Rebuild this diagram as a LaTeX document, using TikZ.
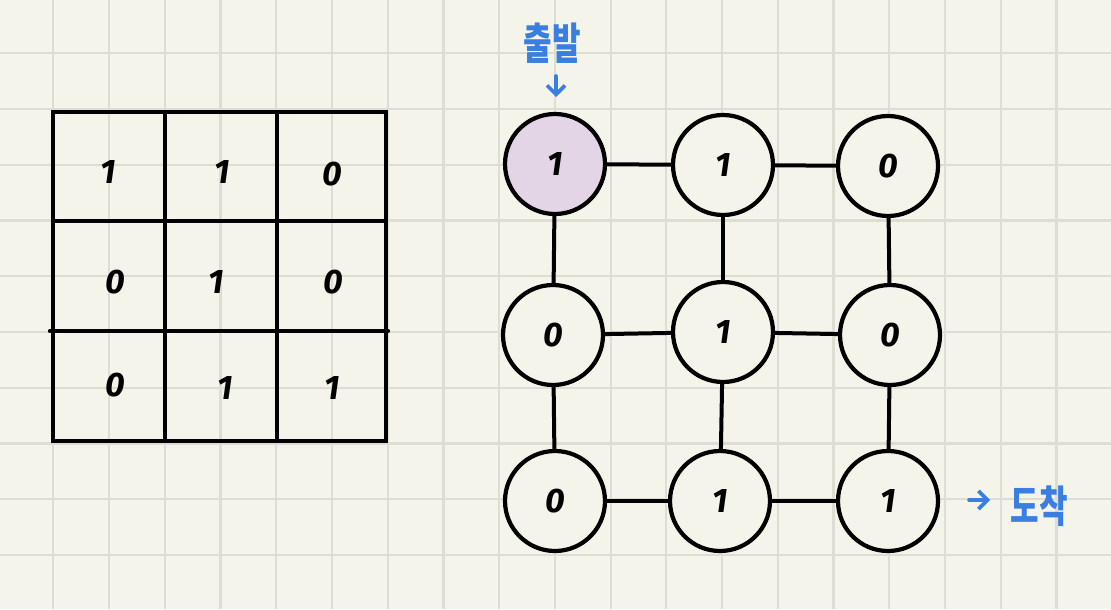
\documentclass[tikz,border=0pt]{standalone}
\usepackage{graphicx}
\usepackage{fontspec}
\setmainfont{Fira Sans}
\newfontfamily\krfont{Noto Sans CJK KR}
\usetikzlibrary{arrows.meta}
\definecolor{paper}{HTML}{F5F4EA}
\definecolor{gridc}{HTML}{DEDDD3}
\definecolor{startpink}{HTML}{E3D5E6}
\definecolor{penblue}{HTML}{3A7EE2}
\newcommand{\tallkr}[1]{\scalebox{1}[1.4]{#1}}
\tikzset{
  gridline/.style={draw=gridc, line width=1.1pt},
  ink/.style={draw=black, line width=2.1pt, line cap=round},
  digit/.style={font=\fontsize{17}{17}\selectfont\bfseries\itshape, text=black, inner sep=0pt},
  vtx/.style={circle, draw=black, line width=2.1pt, minimum size=50pt, inner sep=0pt, fill=paper,
              font=\fontsize{17}{17}\selectfont\bfseries\itshape},
  edge/.style={draw=black, line width=2pt},
  note/.style={font=\krfont\fontsize{15.5}{15.5}\selectfont\bfseries, text=penblue, inner sep=0pt},
  bluearrow/.style={draw=penblue, line width=1.8pt, line cap=round, -{Straight Barb[length=4.5pt,width=9pt,line width=1.8pt]}}
}
\begin{document}
\begin{tikzpicture}[x=0.5pt,y=-0.5pt]
\fill[paper] (0,0) rectangle (1111,609);
\useasboundingbox (0,0) rectangle (1111,609);
\foreach \i in {0,...,20} { \draw[gridline] ({-2.4+55.73*\i},0) -- ({-2.4+55.73*\i},609); }
\foreach \i in {0,...,11} { \draw[gridline] (0,{-2.4+55.73*\i}) -- (1111,{-2.4+55.73*\i}); }

% left table
\draw[ink] (53,112) rectangle (386,441);
\draw[ink] (165,112) -- (165,441);
\draw[ink] (277,112) -- (277,441);
\draw[ink] (53,221) -- (386,221);
\draw[ink] (50,331) -- (388,331);

\node[digit] (t11) at (108,172) {1};
\node[digit] (t12) at (222,172) {1};
\node[digit] (t13) at (332,174) {0};
\node[digit] (t21) at (115,282) {0};
\node[digit] (t22) at (216,282) {1};
\node[digit] (t23) at (333,282) {0};
\node[digit] (t31) at (115,385) {0};
\node[digit] (t32) at (225,388) {1};
\node[digit] (t33) at (332,388) {1};

% graph
\node[vtx, fill=startpink] (v11) at (555,164) {1};
\node[vtx] (v12) at (723,165) {1};
\node[vtx] (v13) at (888,166) {0};
\node[vtx] (v21) at (553,335) {0};
\node[vtx] (v22) at (723,332) {1};
\node[vtx] (v23) at (890,335) {0};
\node[vtx] (v31) at (555,501) {0};
\node[vtx] (v32) at (720,501) {1};
\node[vtx] (v33) at (888,501) {1};

\draw[edge] (v11) -- (v12);
\draw[edge] (v12) -- (v13);
\draw[edge] (v21) -- (v22);
\draw[edge] (v22) -- (v23);
\draw[edge] (v31) -- (v32);
\draw[edge] (v32) -- (v33);
\draw[edge] (v11) -- (v21);
\draw[edge] (v21) -- (v31);
\draw[edge] (v12) -- (v22);
\draw[edge] (v22) -- (v32);
\draw[edge] (v13) -- (v23);
\draw[edge] (v23) -- (v33);

% annotations
\node[note] (start) at (552,43) {\tallkr{출발}};
\coordinate (starttail) at (556,76);
\coordinate (startend) at (556,97);
\draw[bluearrow] (starttail) -- (startend);
\node[note] (goal) at (1039,506) {\tallkr{도착}};
\coordinate (goaltail) at (969,500);
\coordinate (goalhead) at (990,500);
\draw[bluearrow] (goaltail) -- (goalhead);
\end{tikzpicture}
\end{document}
